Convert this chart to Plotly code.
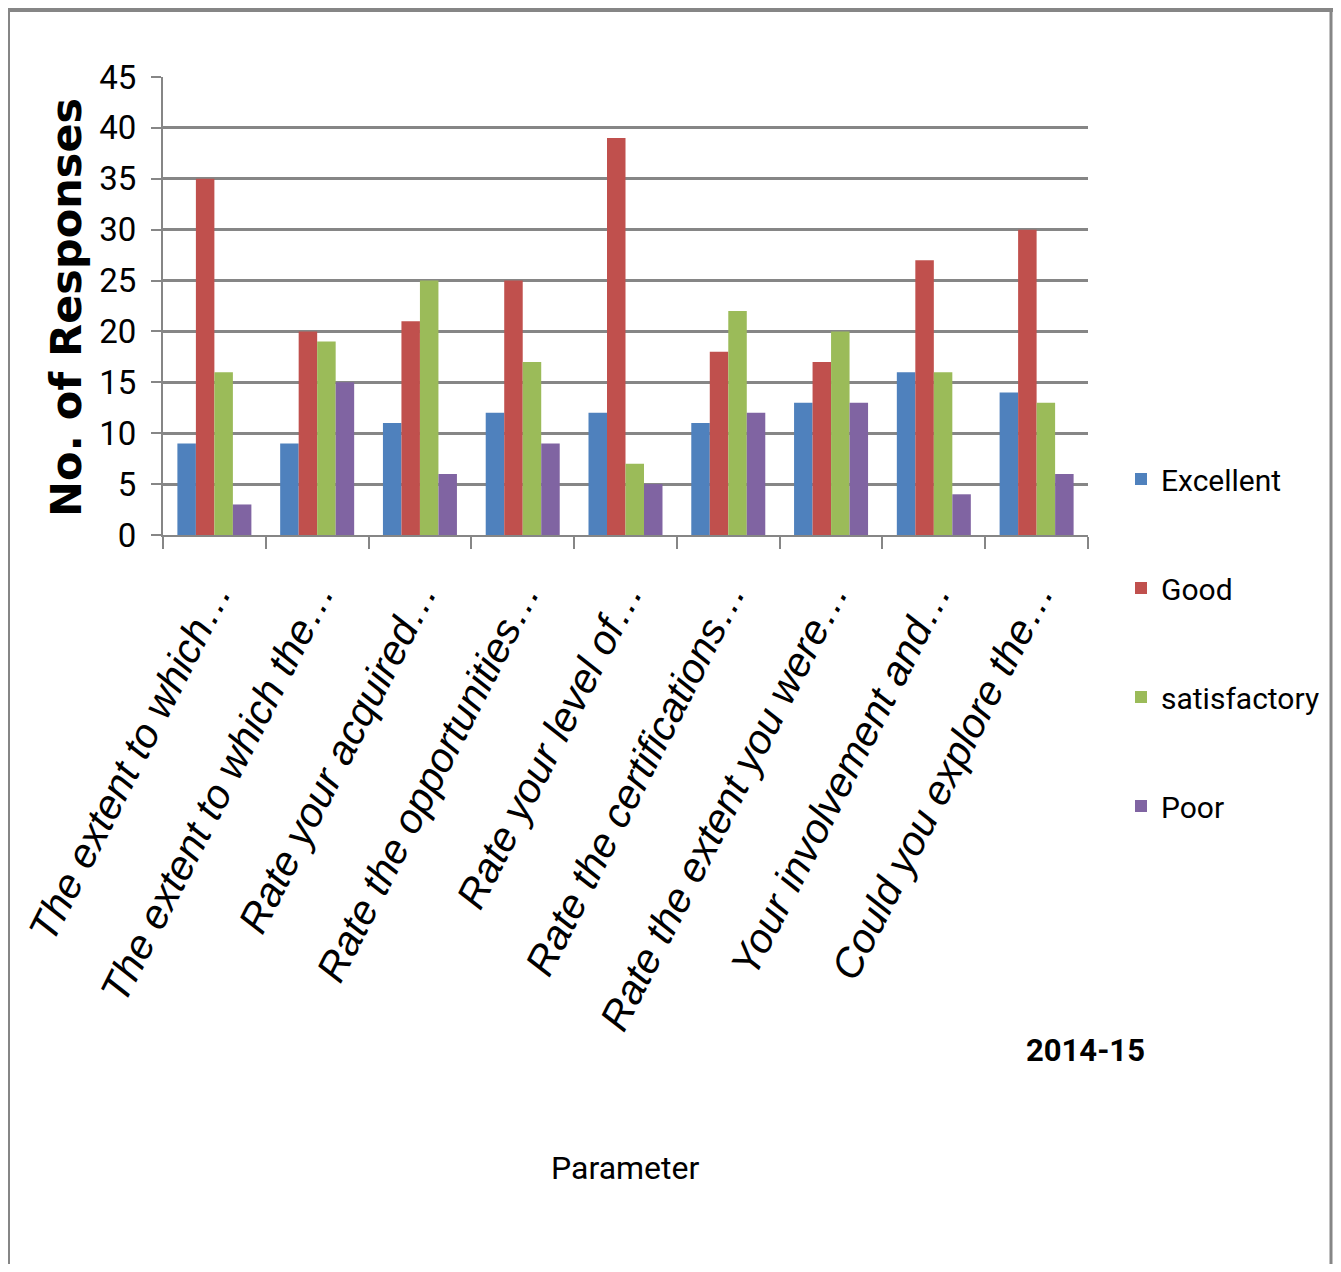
import plotly.graph_objects as go

categories = [
    "The extent to which…",
    "The extent to which the…",
    "Rate your acquired…",
    "Rate the opportunities…",
    "Rate your level of…",
    "Rate the certifications…",
    "Rate the extent you were…",
    "Your involvement and…",
    "Could you explore the…",
]
excellent = [9, 9, 11, 12, 12, 11, 13, 16, 14]
good = [35, 20, 21, 25, 39, 18, 17, 27, 30]
satisfactory = [16, 19, 25, 17, 7, 22, 20, 16, 13]
poor = [3, 15, 6, 9, 5, 12, 13, 4, 6]
y_ticks = [0, 5, 10, 15, 20, 25, 30, 35, 40, 45]

series = [
    ("Excellent", excellent, "#4F81BD"),
    ("Good", good, "#C0504D"),
    ("satisfactory", satisfactory, "#9BBB59"),
    ("Poor", poor, "#8064A2"),
]

NARROW = "Roboto, Liberation Sans, sans-serif"

fig = go.Figure()
for i, (name, vals, col) in enumerate(series):
    fig.add_trace(go.Bar(
        x=categories, y=vals, name=name, marker_color=col,
        marker_line_width=0, legendgroup=f"g{i}",
    ))

OFF = 8  # page body margin
W, H = 1341 - 2 * OFF, 1272 - 2 * OFF
# plot area in reference-image pixels
PL, PR, PT, PB = 163, 1088, 77, 535
L, T = PL - OFF, PT - OFF
R, B = W - (PR - OFF), H - (PB - OFF)
pw, ph = PR - PL, PB - PT

def px(x):
    return (x - PL) / pw

def py(y):
    return (PB - y) / ph

fig.update_layout(
    width=W, height=H,
    margin=dict(l=L, r=R, t=T, b=B, autoexpand=False),
    paper_bgcolor="white", plot_bgcolor="white",
    barmode="group", bargap=0.28, bargroupgap=0,
    font=dict(family=NARROW, color="black"),
    showlegend=True,
    legend=dict(
        x=px(1121), y=py(453), xanchor="left", yanchor="top",
        font=dict(family=NARROW, size=30, color="black"),
        tracegroupgap=67, itemwidth=30, bgcolor="rgba(0,0,0,0)",
    ),
    xaxis=dict(
        tickmode="array", tickvals=categories,
        ticktext=[f"<i>{c}</i>" for c in categories],
        tickangle=-63,
        tickfont=dict(family="Liberation Sans, Arial, sans-serif", size=41, color="black"),
        ticklabelstandoff=16,
        showline=True, linecolor="#868686", linewidth=2,
        ticks="outside", ticklen=12, tickcolor="#868686", tickwidth=2,
        tickson="boundaries", showgrid=False,
        title=None,
    ),
    yaxis=dict(
        range=[0, 45], tickvals=y_ticks,
        tickfont=dict(family=NARROW, size=33, color="black"),
        ticklabelstandoff=8,
        showline=True, linecolor="#868686", linewidth=2,
        ticks="outside", ticklen=10, tickcolor="#868686", tickwidth=2,
        showgrid=True, gridcolor="#868686", gridwidth=2.5,
        zeroline=False,
        title=None,
    ),
)

fig.add_annotation(
    x=px(66), y=py(308), xref="paper", yref="paper",
    text="<b>No. of Responses</b>", textangle=-90, showarrow=False,
    font=dict(family="DejaVu Sans, Verdana, sans-serif", size=43, color="black"),
    xanchor="center", yanchor="middle",
)
fig.add_annotation(
    x=px(1085), y=py(1050), xref="paper", yref="paper",
    text="<b>2014-15</b>", showarrow=False,
    font=dict(family=NARROW, size=31, color="black"),
    xanchor="center", yanchor="middle",
)
fig.add_annotation(
    x=px(625), y=py(1168), xref="paper", yref="paper",
    text="Parameter", showarrow=False,
    font=dict(family=NARROW, size=32, color="black"),
    xanchor="center", yanchor="middle",
)

# outer frame (top thick, left thin, right medium)
frame = [
    (px(8), py(10), px(1333), py(10), 4),
    (px(9), py(10), px(9), py(1290), 2),
    (px(1331), py(10), px(1331), py(1290), 3),
]
for x0, y0, x1, y1, w in frame:
    fig.add_shape(
        type="line", xref="paper", yref="paper",
        x0=x0, y0=y0, x1=x1, y1=y1,
        line=dict(color="#868686", width=w), layer="below",
    )

fig.write_html("out.html")
